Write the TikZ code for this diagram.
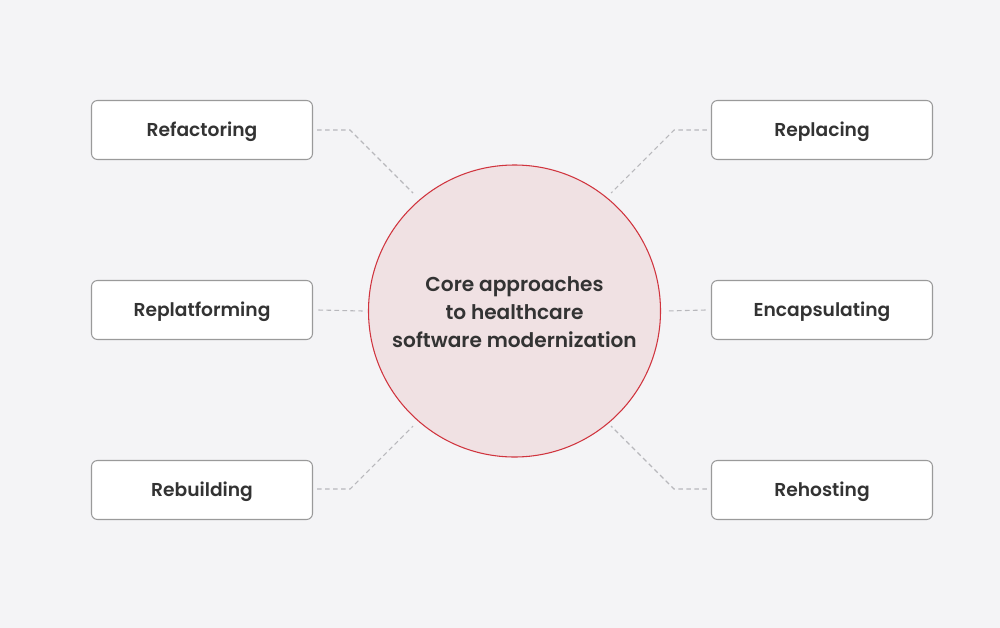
\documentclass[tikz,border=0pt]{standalone}
\usepackage{fontspec}
\setmainfont{Poppins}[BoldFont={Poppins SemiBold}]
\definecolor{bg}{HTML}{F4F4F6}
\definecolor{boxborder}{HTML}{9A9A9A}
\definecolor{txt}{HTML}{333333}
\definecolor{circfill}{HTML}{F0E1E3}
\definecolor{circline}{HTML}{D0343E}
\definecolor{conn}{HTML}{B8B8BC}
\begin{document}
\begin{tikzpicture}[x=0.75pt,y=-0.75pt,
  itembox/.style={draw=boxborder,line width=0.8pt,fill=white,rounded corners=4.5pt,
    minimum width=221*0.75pt,minimum height=59*0.75pt,inner sep=0pt,
    font=\fontsize{14pt}{16pt}\selectfont\bfseries,text=txt},
  hub/.style={circle,draw=circline,line width=0.8pt,fill=circfill,minimum size=292*0.75pt,
    inner sep=0pt,align=center,font=\fontsize{15.1pt}{21pt}\selectfont\bfseries,text=txt},
  link/.style={draw=conn,line width=0.8pt,dash pattern=on 3.5pt off 2.5pt}]
\fill[bg] (0,0) rectangle (1000,628);
\useasboundingbox (0,0) rectangle (1000,628);
\node[hub] (c) at (514.5,311) {};
\node[align=center,font=\fontsize{15.1pt}{21pt}\selectfont\bfseries,text=txt] (ct) at (514.5,312) {Core approaches\\to healthcare\\software modernization};
\node[itembox] (l1) at (202,130) {};
\node[itembox] (l2) at (202,310) {};
\node[itembox] (l3) at (202,490) {};
\node[itembox] (r1) at (822,130) {};
\node[itembox] (r2) at (822,310) {};
\node[itembox] (r3) at (822,490) {};
\tikzset{lbl/.style={font=\fontsize{14pt}{16pt}\selectfont\bfseries,text=txt,inner sep=0pt}}
\node[lbl] (t1) at ([yshift=-1.5pt]l1.center) {Refactoring};
\node[lbl] (t2) at ([yshift=-1.5pt]l2.center) {Replatforming};
\node[lbl] (t3) at ([yshift=-1.5pt]l3.center) {Rebuilding};
\node[lbl] (t4) at ([yshift=-1.5pt]r1.center) {Replacing};
\node[lbl] (t5) at ([yshift=-1.5pt]r2.center) {Encapsulating};
\node[lbl] (t6) at ([yshift=-1.5pt]r3.center) {Rehosting};
\coordinate (k1) at (350,130);
\coordinate (k3) at (350,489);
\coordinate (k4) at (674,130);
\coordinate (k6) at (674,489);
\coordinate (e1) at (413,193);
\coordinate (e3) at (413,426);
\coordinate (e4) at (611,193);
\coordinate (e6) at (611,426);
\draw[link] ([xshift=3pt]l1.east |- k1) -- (k1) -- (e1);
\draw[link] ([xshift=4pt]l2.east) -- ([xshift=-4pt]c.west);
\draw[link] ([xshift=3pt]l3.east |- k3) -- (k3) -- (e3);
\draw[link] ([xshift=-3pt]r1.west |- k4) -- (k4) -- (e4);
\draw[link] ([xshift=-4pt]r2.west) -- ([xshift=4pt]c.east);
\draw[link] ([xshift=-3pt]r3.west |- k6) -- (k6) -- (e6);
\end{tikzpicture}
\end{document}
